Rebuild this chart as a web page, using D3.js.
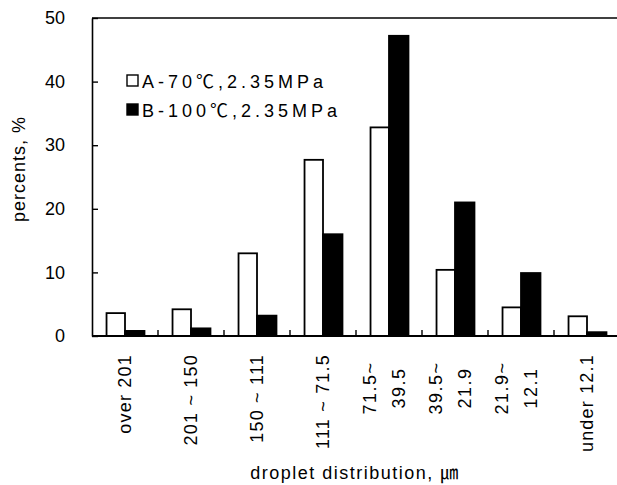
<!DOCTYPE html>
<html>
<head>
<meta charset="utf-8">
<script src="https://cdn.jsdelivr.net/npm/d3@7/dist/d3.min.js"></script>
<style>
  body { margin: 0; background: #fff; }
  text { font-family: "Liberation Sans", Arial, "Noto Sans CJK SC", sans-serif; fill: #000; }
</style>
</head>
<body>
<div id="chart"></div>
<script>
// 粒径区间
const categories = ["over 201", "201 ~ 150", "150 ~ 111", "111 ~ 71.5", "71.5~|39.5", "39.5~|21.9", "21.9~|12.1", "under 12.1"];
// A-70℃ 与 B-100℃ 的百分比
const seriesA = [3.6, 4.2, 13.0, 27.7, 32.8, 10.4, 4.5, 3.1];
const seriesB = [0.8, 1.2, 3.2, 16.0, 47.2, 21.0, 9.9, 0.6];
const seriesNames = ["A-70℃,2.35MPa", "B-100℃,2.35MPa"];
const yTicks = [0, 10, 20, 30, 40, 50];

const W = 617, H = 485;
const mLeft = 92, mRight = 620, mTop = 18, mBottom = 336;

const svg = d3.select("#chart").append("svg")
    .attr("width", W).attr("height", H);

// 比例尺
const x0 = d3.scaleBand().domain(categories).range([mLeft, mRight])
    .paddingInner(0.41).paddingOuter(0.205);
const x1 = d3.scaleBand().domain(["A", "B"]).range([0, x0.bandwidth()]).padding(0);
const y = d3.scaleLinear().domain([0, 50]).range([mBottom, mTop]);

// 柱子
const rows = categories.map((c, i) => ({ c, vals: [{ k: "A", v: seriesA[i] }, { k: "B", v: seriesB[i] }] }));
const g = svg.append("g").selectAll("g").data(rows).enter().append("g")
    .attr("transform", d => `translate(${x0(d.c)},0)`);
g.selectAll("rect").data(d => d.vals).enter().append("rect")
    .attr("x", d => x1(d.k) + (d.k === "A" ? 1 : 0))
    .attr("y", d => y(d.v))
    .attr("width", d => x1.bandwidth() - (d.k === "A" ? 1 : 0))
    .attr("height", d => y(0) - y(d.v))
    .attr("fill", d => d.k === "A" ? "#fff" : "#000")
    .attr("stroke", "#000")
    .attr("stroke-width", 1.8);

// 边框: 上边和下边
svg.append("line").attr("x1", mLeft).attr("x2", mRight).attr("y1", mTop).attr("y2", mTop)
    .attr("stroke", "#000").attr("stroke-width", 1.6);
svg.append("line").attr("x1", mLeft).attr("x2", mRight).attr("y1", mBottom).attr("y2", mBottom)
    .attr("stroke", "#000").attr("stroke-width", 1.8);

// Y轴
const yAxis = svg.append("g").attr("transform", `translate(${mLeft},0)`)
    .call(d3.axisLeft(y).tickValues(yTicks).tickSizeInner(-6).tickSizeOuter(0).tickPadding(27));
yAxis.attr("font-family", null).attr("font-size", null);
yAxis.select(".domain").attr("stroke-width", 1.6);
yAxis.selectAll(".tick line").attr("stroke-width", 1.4);
yAxis.selectAll(".tick text").style("font-size", "18px");

// X轴分隔刻度
const step = x0.step();
svg.append("g").selectAll("line").data(categories.slice(1)).enter().append("line")
    .attr("x1", d => x0(d) - step * x0.paddingInner() / 2)
    .attr("x2", d => x0(d) - step * x0.paddingInner() / 2)
    .attr("y1", mBottom).attr("y2", mBottom - 6)
    .attr("stroke", "#000").attr("stroke-width", 1.4);

// X轴标签 (竖排)
categories.forEach(c => {
    const cx = x0(c) + x0.bandwidth() / 2;
    const parts = c.split("|");
    if (parts.length === 1) {
        svg.append("text")
            .attr("transform", `translate(${cx},354) rotate(-90)`)
            .attr("text-anchor", "end")
            .attr("dy", "0.35em")
            .style("font-size", "18px")
            .style("letter-spacing", "1.2px")
            .text(c);
    } else {
        const t = svg.append("text")
            .attr("transform", `translate(${cx},388) rotate(-90)`)
            .attr("text-anchor", "middle")
            .style("font-size", "18px")
            .style("letter-spacing", "1.5px");
        t.append("tspan").attr("x", 0).attr("y", -19).attr("dy", "0.35em").text(parts[0]);
        t.append("tspan").attr("x", 0).attr("y", 10).attr("dy", "0.35em").text(parts[1]);
    }
});

// 坐标轴标题
svg.append("text")
    .attr("transform", "translate(25,169) rotate(-90)")
    .attr("text-anchor", "middle")
    .style("font-size", "18px")
    .style("letter-spacing", "1px")
    .text("percents, %");

svg.append("text")
    .attr("x", 355).attr("y", 479)
    .attr("text-anchor", "middle")
    .style("font-size", "18px")
    .style("letter-spacing", "1.5px")
    .text("droplet distribution, ㎛");

// 图例
const legend = svg.append("g");
seriesNames.forEach((name, i) => {
    const ly = 75 + i * 29;
    legend.append("rect")
        .attr("x", 127).attr("y", ly).attr("width", 11).attr("height", 11)
        .attr("fill", i === 0 ? "#fff" : "#000")
        .attr("stroke", "#000").attr("stroke-width", 1.4);
    legend.append("text")
        .attr("x", 142).attr("y", ly + 13)
        .style("font-size", "18px")
        .style("letter-spacing", "4px")
        .text(name);
});
</script>
</body>
</html>
